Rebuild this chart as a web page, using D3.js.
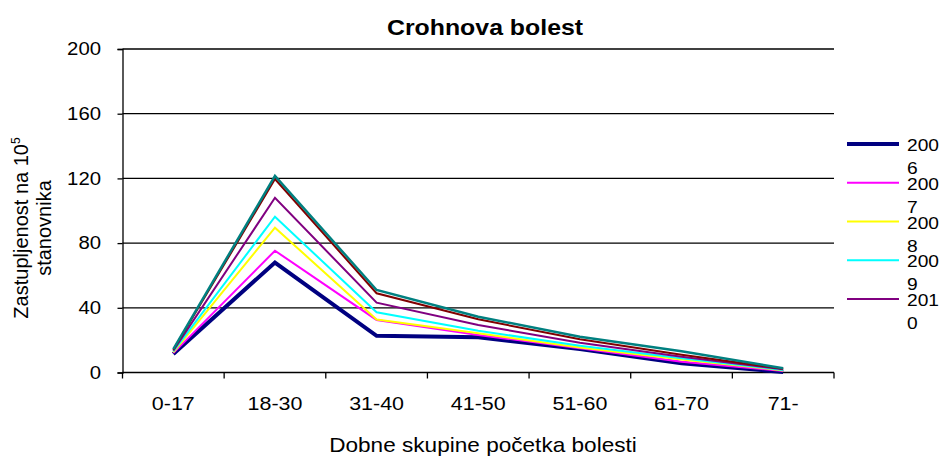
<!DOCTYPE html>
<html>
<head>
<meta charset="utf-8">
<script src="https://cdn.jsdelivr.net/npm/d3@7"></script>
<style>
  body { margin: 0; background: #fff; }
  svg { font-family: "Liberation Sans", Arial, sans-serif; }
</style>
</head>
<body>
<svg id="chart" width="942" height="457"></svg>
<script>
// age groups on the x axis
let categories = ["0-17", "18-30", "31-40", "41-50", "51-60", "61-70", "71-"];

// prevalence per 10^5 inhabitants
let s2006 = [11.5, 68, 22.7, 21.8, 14.5, 5.7, 0.3];
let s2007 = [12, 75.3, 32.5, 23.2, 15, 6.7, 1];
let s2008 = [12.5, 89.5, 32.8, 24.2, 15.5, 8.1, 1.3];
let s2009 = [13, 96.3, 37.2, 25.8, 16.6, 8.8, 1.6];
let s2010 = [13.5, 108, 43.2, 29.4, 18.4, 9.8, 2];
let s2011 = [14, 119.6, 49, 32.9, 20.5, 11, 2.3];
let s2012 = [14.5, 121.5, 51, 34.5, 22.1, 13.2, 2.6];

let seriesNames = ["2006", "2007", "2008", "2009", "2010", "2011", "2012"];
let yTicks = [0, 40, 80, 120, 160, 200];

let series = [
    {name: seriesNames[0], values: s2006, color: "#000080", width: 4},
    {name: seriesNames[1], values: s2007, color: "#ff00ff", width: 2},
    {name: seriesNames[2], values: s2008, color: "#ffff00", width: 2},
    {name: seriesNames[3], values: s2009, color: "#00ffff", width: 2},
    {name: seriesNames[4], values: s2010, color: "#800080", width: 2},
    {name: seriesNames[5], values: s2011, color: "#800000", width: 2},
    {name: seriesNames[6], values: s2012, color: "#008080", width: 2.5}
];

// the text in the picture is a bit wider than plain Arial
let sx = 1.13;

let svg = d3.select('#chart');

let plotLeft = 122.5, plotRight = 834, plotTop = 49, plotBottom = 372.5;

let xScale = d3.scaleBand()
               .domain(categories)
               .range([plotLeft, plotRight]);

let yScale = d3.scaleLinear()
               .domain([0, 200])
               .range([plotBottom, plotTop]);

// gridlines
svg.append('g')
   .selectAll('line')
   .data(yTicks.filter(d => d > 0))
   .enter()
   .append('line')
   .attr('x1', plotLeft)
   .attr('x2', plotRight)
   .attr('y1', d => yScale(d))
   .attr('y2', d => yScale(d))
   .attr('stroke', '#000')
   .attr('stroke-width', 1.3);

let yAxis = d3.axisLeft(yScale).tickValues(yTicks).tickSize(5).tickPadding(14);
let gy = svg.append('g')
   .attr('transform', `translate(${plotLeft},0)`)
   .call(yAxis);
gy.selectAll('text')
  .style('font-size', '18px')
  .style('font-family', 'Liberation Sans')
  .attr('fill', '#000')
  .attr('x', -21.5 / sx)
  .attr('transform', `scale(${sx},1)`);
gy.selectAll('line').attr('stroke', '#000').attr('stroke-width', 1.3);
gy.select('.domain').attr('stroke', '#000').attr('stroke-width', 1.3);

// x axis with ticks between the categories
let gx = svg.append('g')
   .attr('transform', `translate(0,${plotBottom})`);
gx.append('line')
  .attr('x1', plotLeft).attr('x2', plotRight)
  .attr('stroke', '#000').attr('stroke-width', 1.3);
let bounds = categories.map(c => xScale(c)).concat([plotRight]);
gx.selectAll('.tk')
  .data(bounds)
  .enter()
  .append('line')
  .attr('class', 'tk')
  .attr('x1', d => d).attr('x2', d => d)
  .attr('y1', 0).attr('y2', 6)
  .attr('stroke', '#000').attr('stroke-width', 1.3);
gx.selectAll('.lbl')
  .data(categories)
  .enter()
  .append('text')
  .attr('class', 'lbl')
  .attr('transform', d => `translate(${xScale(d) + xScale.bandwidth() / 2},37) scale(${sx},1)`)
  .attr('text-anchor', 'middle')
  .style('font-size', '19px')
  .text(d => d);

// lines
let line = d3.line()
             .x((d, i) => xScale(categories[i]) + xScale.bandwidth() / 2)
             .y(d => yScale(d));

svg.append('g')
   .selectAll('path')
   .data(series)
   .enter()
   .append('path')
   .attr('d', d => line(d.values))
   .attr('fill', 'none')
   .attr('stroke', d => d.color)
   .attr('stroke-width', d => d.width)
   .attr('stroke-linejoin', 'miter');

// title
svg.append('text')
   .attr('transform', `translate(485,35) scale(${sx},1)`)
   .attr('text-anchor', 'middle')
   .style('font-size', '22px')
   .style('font-weight', 'bold')
   .text('Crohnova bolest');

// x axis title
svg.append('text')
   .attr('transform', `translate(483,452) scale(${sx},1)`)
   .attr('text-anchor', 'middle')
   .style('font-size', '20px')
   .text('Dobne skupine početka bolesti');

// y axis title (two lines)
let yt = svg.append('text')
   .attr('transform', 'translate(28,228) rotate(-90)')
   .attr('text-anchor', 'middle')
   .style('font-size', '20px');
yt.append('tspan').attr('x', 0).attr('y', 0).text('Zastupljenost na 10');
yt.append('tspan').attr('dy', -8).style('font-size', '12px').text('5');
yt.append('tspan').attr('x', 0).attr('y', 23).text('stanovnika');

// legend, only the first five entries fit
let legend = svg.append('g');
let shown = series.slice(0, 5);
let item = legend.selectAll('g')
   .data(shown)
   .enter()
   .append('g')
   .attr('transform', (d, i) => `translate(847,${144 + i * 38.75})`);
item.append('line')
    .attr('x1', 0).attr('x2', 52)
    .attr('stroke', d => d.color)
    .attr('stroke-width', d => d.name === "2006" ? 4 : 2);
item.append('text')
    .attr('transform', `translate(60,7) scale(${sx},1)`)
    .style('font-size', '17px')
    .text(d => d.name.slice(0, 3));
item.append('text')
    .attr('transform', `translate(60,30) scale(${sx},1)`)
    .style('font-size', '17px')
    .text(d => d.name.slice(3));
</script>
</body>
</html>
